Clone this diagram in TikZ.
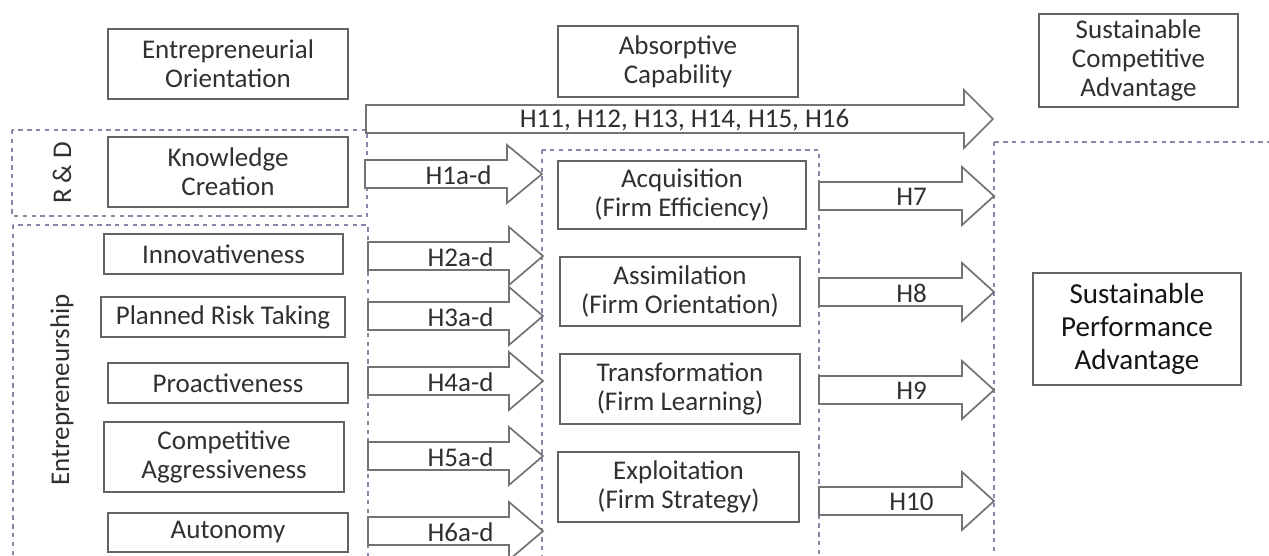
\documentclass[tikz,border=0pt]{standalone}
\usepackage{fontspec}
\setmainfont{Carlito}
\definecolor{boxline}{RGB}{100,100,100}
\definecolor{arrline}{RGB}{115,115,115}
\definecolor{dashline}{RGB}{135,135,170}
\definecolor{txt}{RGB}{48,48,48}
\definecolor{txtdark}{RGB}{20,20,20}
\tikzset{
  bx/.style={draw=boxline, line width=1pt, fill=white, inner sep=0pt, align=center,
    text=txt, font=\fontsize{13.5}{14.5}\selectfont},
  grp/.style={draw=dashline, line width=0.75pt, dash pattern=on 2.2pt off 2.2pt},
  arr/.style={draw=arrline, line width=0.85pt, fill=white, line join=miter},
  lab/.style={text=txt, font=\fontsize{13.5}{14.5}\selectfont, inner sep=0pt},
  side/.style={text=txt, font=\fontsize{13.5}{14.5}\selectfont, rotate=90, inner sep=0pt}
}
% #1 start x, #2 head base x, #3 tip x, #4 centre y, #5 label, #6 name
\newcommand{\blockarr}[6]{%
  \draw[arr] (#1,#4-14) -- (#2,#4-14) -- (#2,#4-29) -- (#3,#4) -- (#2,#4+29) -- (#2,#4+14) -- (#1,#4+14) -- cycle;
  \node[lab] (#6) at ({(#1+#3)/2+5},#4+1) {#5};}
\begin{document}
\begin{tikzpicture}[x=0.5pt,y=-0.5pt]
\useasboundingbox (0,0) rectangle (1269,556);
\clip (0,0) rectangle (1269,556);
\fill[white] (0,0) rectangle (1269,556);

% group frames
\draw[grp] (12,130) rectangle (367,216);
\node[side] (rd) at (62,173) {R \& D};
\draw[grp] (13,225) rectangle (368,570);
\node[side] (ent) at (62,390) {Entrepreneurship};
\draw[grp] (542,150) rectangle (819,570);
\draw[grp] (994,142) rectangle (1290,570);

% headers
\node[bx, minimum width=120pt, minimum height=35pt] (eo) at (228,64) {Entrepreneurial\\Orientation};
\node[bx, minimum width=120pt, minimum height=35.5pt] (ac) at (678,61.5) {Absorptive\\Capability};
\node[bx, minimum width=99.5pt, minimum height=46.5pt] (sca) at (1138.5,60.5) {Sustainable\\Competitive\\Advantage};

% left column
\node[bx, minimum width=120pt, minimum height=35pt] (kc) at (228,172) {Knowledge\\Creation};
\node[bx, minimum width=119.5pt, minimum height=20pt] (inn) at (223.5,254) {Innovativeness};
\node[bx, minimum width=122pt, minimum height=20pt] (prt) at (223,317) {Planned Risk Taking};
\node[bx, minimum width=120pt, minimum height=20pt] (pro) at (228,383) {Proactiveness};
\node[bx, minimum width=120pt, minimum height=35pt] (ca) at (224,457) {Competitive\\Aggressiveness};
\node[bx, minimum width=120pt, minimum height=19.5pt] (aut) at (228,532.5) {Autonomy};

% middle column
\node[bx, minimum width=124pt, minimum height=34pt] (acq) at (682,195) {Acquisition\\(Firm Efficiency)};
\node[bx, minimum width=120pt, minimum height=34.5pt] (asm) at (680,291.5) {Assimilation\\(Firm Orientation)};
\node[bx, minimum width=120pt, minimum height=35pt] (trf) at (680,389) {Transformation\\(Firm Learning)};
\node[bx, minimum width=120.5pt, minimum height=35pt] (exp) at (678.5,487) {Exploitation\\(Firm Strategy)};

% right
\node[bx, minimum width=104pt, minimum height=56pt, text=txtdark,
      font=\fontsize{14.5}{16.5}\selectfont] (spa) at (1137,329) {Sustainable\\Performance\\Advantage};

% block arrows
\blockarr{366}{964}{993}{119}{H11, H12, H13, H14, H15, H16}{h11}
\blockarr{365}{507}{542}{174}{H1a-d}{h1}
\blockarr{368}{509}{543}{256}{H2a-d}{h2}
\blockarr{368}{509}{543}{316}{H3a-d}{h3}
\blockarr{368}{509}{543}{381}{H4a-d}{h4}
\blockarr{368}{509}{543}{456}{H5a-d}{h5}
\blockarr{368}{509}{543}{531}{H6a-d}{h6}
\blockarr{819}{962}{994}{196}{H7}{h7}
\blockarr{819}{962}{994}{292}{H8}{h8}
\blockarr{819}{962}{994}{390}{H9}{h9}
\blockarr{819}{962}{994}{501}{H10}{h10}
\end{tikzpicture}
\end{document}
